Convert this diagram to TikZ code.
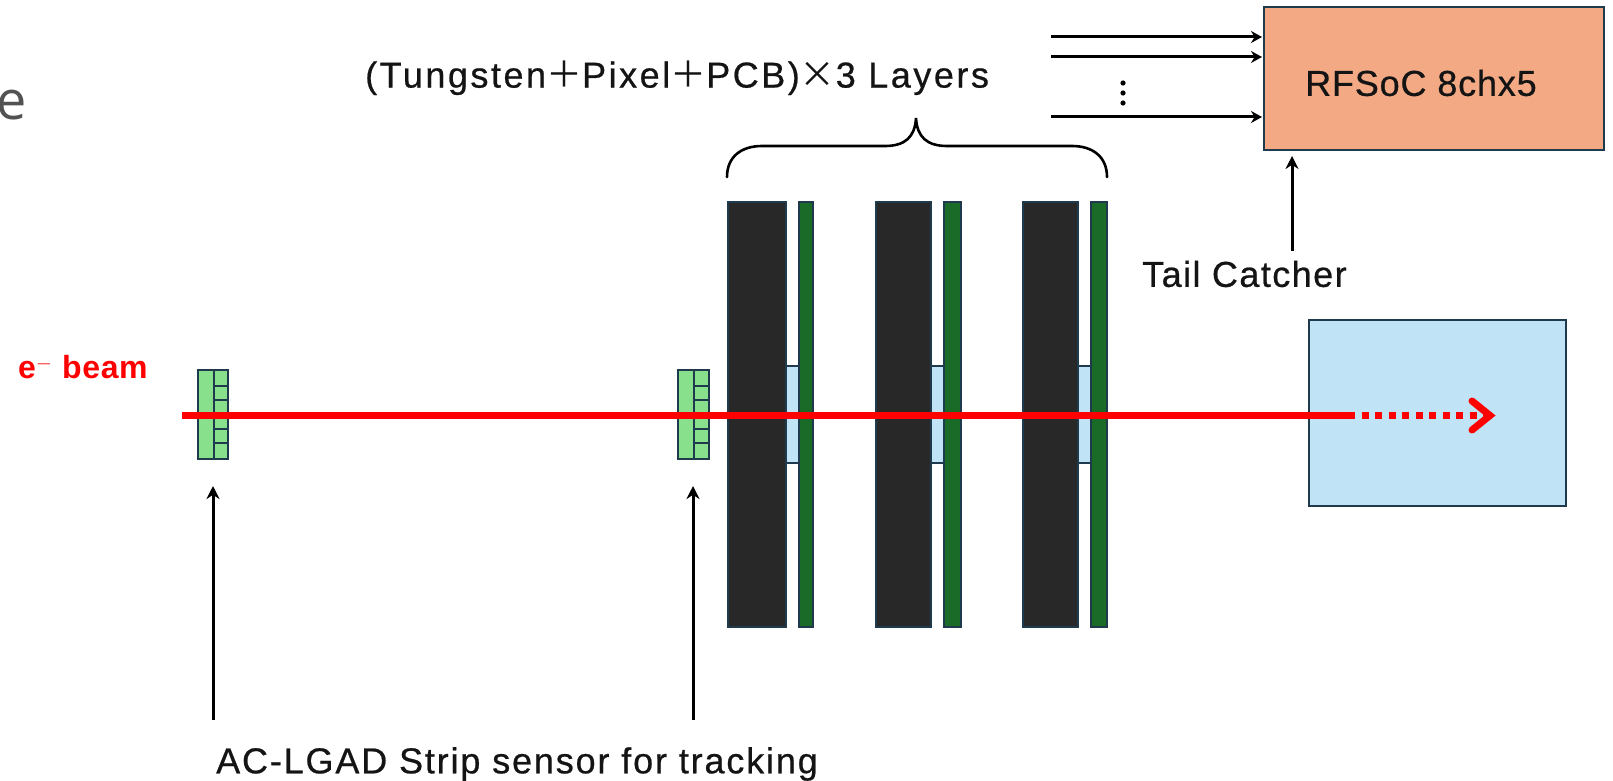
\documentclass[tikz,border=0pt]{standalone}
\usepackage{fontspec}
\setmainfont{Liberation Sans}
\newfontfamily\cjkfont{Noto Sans CJK JP}
\newfontfamily\greyfont{Open Sans}
\usetikzlibrary{arrows.meta,calc}
\definecolor{edgec}{HTML}{1F3A4D}
\definecolor{tung}{HTML}{282828}
\definecolor{pcb}{HTML}{1A6B28}
\definecolor{sky}{HTML}{C0E4F5}
\definecolor{mint}{HTML}{88E08C}
\definecolor{salmon}{HTML}{F2A984}
\newcommand{\capfont}[1]{\fontsize{36}{36}\selectfont\addfontfeature{LetterSpace=#1,FakeBold=0.6}}
\tikzset{
  x=1pt,y=-1pt,
  boxbase/.style={draw=edgec,line width=2pt,inner sep=0pt,outer sep=0pt,rectangle},
  tungsten/.style={boxbase,fill=tung},
  board/.style={boxbase,fill=pcb},
  pixel/.style={boxbase,fill=sky},
  strip/.style={boxbase,fill=mint},
  rfsoc/.style={boxbase,fill=salmon},
  inlet/.style={line width=3pt,-{Stealth[length=11pt,width=12pt]}},
  pointer/.style={line width=3pt,-{Stealth[length=13pt,width=13pt]}},
  caption/.style={inner sep=0pt,text=black!92},
  beam/.style={draw=red,line width=6.5pt},
}
\newcommand{\boxat}[6]{%
  \pgfmathsetmacro{\bw}{#5-#3}\pgfmathsetmacro{\bh}{#6-#4}%
  \pgfmathsetmacro{\bx}{(#3+#5)/2}\pgfmathsetmacro{\by}{(#4+#6)/2}%
  \node[#1,minimum width=\bw pt,minimum height=\bh pt] (#2) at (\bx,\by) {};}
\newcommand{\stripsensor}[2]{% name, left x
  \pgfmathsetmacro{\sr}{#2+30.5}%
  \boxat{strip}{#1}{#2}{370}{\sr}{459}
  \pgfmathsetmacro{\sm}{#2+16}%
  \draw[edgec,line width=2pt] (\sm,370) -- (\sm,459);
  \foreach \yy in {386,400,415,429,443} {\draw[edgec,line width=2pt] (\sm,\yy) -- (\sr,\yy);}
}
\begin{document}
\begin{tikzpicture}
\useasboundingbox (0,0) rectangle (1613,781);
\fill[white] (0,0) rectangle (1613,781);
% stray clipped letter
\begin{scope}
\clip (0,0) rectangle (1613,781);
\node[anchor=base east,inner sep=0pt,font=\greyfont\fontsize{54}{54}\selectfont,text=black!68] (stray) at (27,120) {e};
\end{scope}
% layers
\boxat{pixel}{px1}{786}{366}{799}{463}
\boxat{pixel}{px2}{930}{366}{944}{463}
\boxat{pixel}{px3}{1078}{366}{1091}{463}
\boxat{tungsten}{w1}{728}{202}{786}{627}
\boxat{board}{g1}{798.5}{202}{813}{627}
\boxat{tungsten}{w2}{876}{202}{931}{627}
\boxat{board}{g2}{944}{202}{960.5}{627}
\boxat{tungsten}{w3}{1023}{202}{1078}{627}
\boxat{board}{g3}{1091}{202}{1107}{627}
\stripsensor{s1}{197.5}
\stripsensor{s2}{678}
% right hand boxes
\boxat{pixel}{calo}{1309}{320}{1566}{506}
\boxat{rfsoc}{rf}{1264}{7}{1604}{150}
\node[caption,anchor=west,font=\capfont{2.3}] (rflabel) at (1305,83) {RFSoC 8chx5};
% inputs
\coordinate (i1) at (1051,37); \coordinate (i2) at (1051,57); \coordinate (i3) at (1051,117);
\draw[inlet,shorten >=2pt] (i1) -- (i1 -| rf.west);
\draw[inlet,shorten >=2pt] (i2) -- (i2 -| rf.west);
\draw[inlet,shorten >=2pt] (i3) -- (i3 -| rf.west);
\foreach \yy in {83,93,103} {\fill (1123,\yy) circle (2.6pt);}
% tail catcher
\node[caption,anchor=west,font=\capfont{4}] (tail) at (1142,274) {Tail Catcher};
\draw[pointer] (1292,251) -- (1292,156);
% brace
\draw[line width=2.6pt,line cap=round] (727,177) .. controls (727,157) and (741,146) .. (762,146) -- (885,146) .. controls (905,146) and (915,137) .. (916,118) .. controls (917,137) and (927,146) .. (947,146) -- (1072,146) .. controls (1093,146) and (1107,157) .. (1107,177);
\node[caption,anchor=west,font=\capfont{7}] (layers) at (365,78) {(Tungsten{\cjkfont＋}Pixel{\cjkfont＋}PCB){\cjkfont ×}3 Layers};
% beam
\coordinate (bs) at (182,415.5); \coordinate (bm) at (1355,415.5); \coordinate (bt) at (1484,415.5);
\draw[beam] (bs) -- (bm);
\draw[beam,dash pattern=on 7pt off 6.5pt,dash phase=7pt] (bm) -- (bt);
\draw[red,line width=7pt,line join=miter,line cap=round] (1472,401) -- (1490,415.5) -- (1472,430);
\node[inner sep=0pt,anchor=west,text=red,font=\bfseries\fontsize{32}{32}\selectfont\addfontfeature{LetterSpace=2}] (ebeam) at (18,367) {e$^{-}$ beam};
% sensor pointers
\node[caption,anchor=west,font=\capfont{5.1}] (aclgad) at (216,764) {AC-LGAD Strip sensor for tracking};
\draw[pointer] (213,720) -- (213,486);
\draw[pointer] (693,720) -- (693,486);
\end{tikzpicture}
\end{document}
